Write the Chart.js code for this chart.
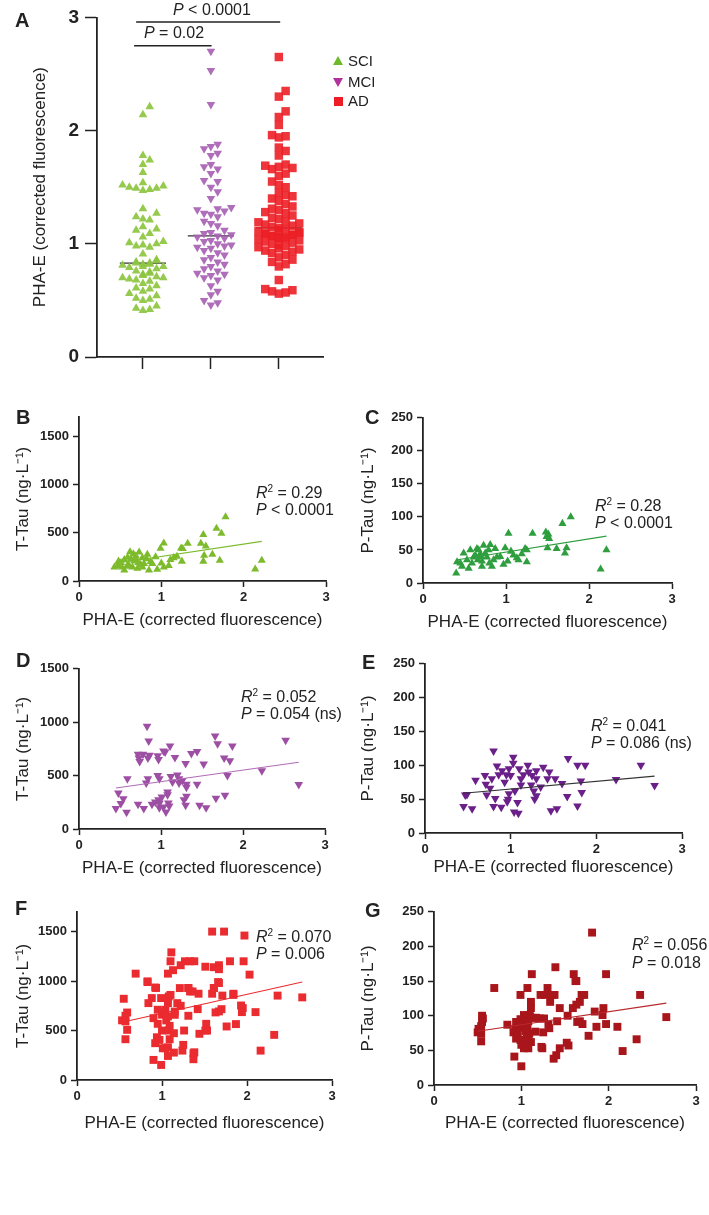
<!DOCTYPE html>
<html>
<head>
<meta charset="utf-8">
<script src="https://cdn.jsdelivr.net/npm/chart.js@4.4.0/dist/chart.umd.min.js"></script>
<style>
body{margin:0;background:#fff;width:709px;height:1215px;position:relative;overflow:hidden;font-family:"Liberation Sans",Arial,sans-serif;color:#222}
canvas{position:absolute}
.t{position:absolute;white-space:nowrap;font-size:16px;line-height:18px}
.t sup{font-size:10px;line-height:0;vertical-align:6px}
.lbl{position:absolute;font-weight:bold;font-size:20px;line-height:22px}
.leg{position:absolute;font-size:15px;line-height:18px;white-space:nowrap}
.mk{position:absolute}
</style>
</head>
<body>
<canvas id="cA" width="333" height="380" style="left:0;top:0"></canvas>
<canvas id="cB"></canvas>
<canvas id="cC"></canvas>
<canvas id="cD"></canvas>
<canvas id="cE"></canvas>
<canvas id="cF"></canvas>
<canvas id="cG"></canvas>

<div class="lbl" style="left:15px;top:9px">A</div>
<div class="lbl" style="left:16px;top:406px">B</div>
<div class="lbl" style="left:365px;top:406px">C</div>
<div class="lbl" style="left:16px;top:649px">D</div>
<div class="lbl" style="left:362px;top:651px">E</div>
<div class="lbl" style="left:15px;top:897px">F</div>
<div class="lbl" style="left:365px;top:899px">G</div>

<div class="t" style="left:173px;top:1px"><i>P</i> &lt; 0.0001</div>
<div class="t" style="left:144px;top:24px"><i>P</i> = 0.02</div>

<div class="mk" style="left:333px;top:56px;border-left:5px solid transparent;border-right:5px solid transparent;border-bottom:9px solid #6dbb2a"></div>
<div class="leg" style="left:348px;top:52px">SCI</div>
<div class="mk" style="left:333px;top:78px;border-left:5px solid transparent;border-right:5px solid transparent;border-top:9px solid #b2329c"></div>
<div class="leg" style="left:348px;top:73px">MCI</div>
<div class="mk" style="left:334px;top:97px;width:9px;height:9px;background:#ee1c25"></div>
<div class="leg" style="left:348px;top:92px">AD</div>

<div class="t" style="left:256px;top:484px"><i>R</i><sup>2</sup> = 0.29</div>
<div class="t" style="left:256px;top:501px"><i>P</i> &lt; 0.0001</div>
<div class="t" style="left:595px;top:497px"><i>R</i><sup>2</sup> = 0.28</div>
<div class="t" style="left:595px;top:514px"><i>P</i> &lt; 0.0001</div>
<div class="t" style="left:241px;top:688px"><i>R</i><sup>2</sup> = 0.052</div>
<div class="t" style="left:241px;top:705px"><i>P</i> = 0.054 (ns)</div>
<div class="t" style="left:591px;top:717px"><i>R</i><sup>2</sup> = 0.041</div>
<div class="t" style="left:591px;top:734px"><i>P</i> = 0.086 (ns)</div>
<div class="t" style="left:256px;top:928px"><i>R</i><sup>2</sup> = 0.070</div>
<div class="t" style="left:256px;top:945px"><i>P</i> = 0.006</div>
<div class="t" style="left:632px;top:936px"><i>R</i><sup>2</sup> = 0.056</div>
<div class="t" style="left:632px;top:954px"><i>P</i> = 0.018</div>

<script>
// panel A: PHA-E per group
const groups = ['SCI', 'MCI', 'AD']
const sciVals = [2.21, 2.14, 1.78, 1.74, 1.70, 1.63, 1.54, 1.52, 1.51, 1.50, 1.49, 1.49, 1.48, 1.47, 1.31, 1.27, 1.24, 1.22, 1.21, 1.15, 1.13, 1.12, 1.09, 1.06, 1.02, 1.01, 1.00, 0.99, 0.98, 0.97, 0.91, 0.86, 0.85, 0.84, 0.83, 0.83, 0.82, 0.82, 0.81, 0.80, 0.80, 0.79, 0.78, 0.76, 0.75, 0.74, 0.73, 0.72, 0.71, 0.70, 0.70, 0.69, 0.68, 0.67, 0.65, 0.63, 0.61, 0.60, 0.58, 0.56, 0.54, 0.52, 0.51, 0.50, 0.45, 0.43, 0.42, 0.41]
const mciVals = [2.70, 2.53, 2.23, 1.88, 1.86, 1.84, 1.80, 1.78, 1.70, 1.68, 1.66, 1.62, 1.56, 1.55, 1.50, 1.46, 1.40, 1.32, 1.31, 1.30, 1.29, 1.27, 1.26, 1.24, 1.20, 1.18, 1.16, 1.12, 1.10, 1.09, 1.08, 1.07, 1.06, 1.05, 1.03, 1.02, 1.00, 0.99, 0.98, 0.97, 0.96, 0.94, 0.92, 0.90, 0.88, 0.86, 0.84, 0.82, 0.80, 0.78, 0.76, 0.74, 0.73, 0.72, 0.70, 0.68, 0.63, 0.58, 0.55, 0.50, 0.48, 0.46]
const adVals = [2.65, 2.35, 2.30, 2.17, 2.12, 2.05, 1.96, 1.95, 1.94, 1.85, 1.82, 1.78, 1.70, 1.69, 1.68, 1.67, 1.66, 1.62, 1.60, 1.55, 1.52, 1.50, 1.45, 1.43, 1.42, 1.40, 1.38, 1.35, 1.33, 1.31, 1.30, 1.28, 1.27, 1.25, 1.23, 1.22, 1.20, 1.19, 1.18, 1.17, 1.16, 1.15, 1.14, 1.13, 1.12, 1.11, 1.10, 1.10, 1.09, 1.09, 1.08, 1.08, 1.07, 1.07, 1.06, 1.06, 1.05, 1.05, 1.04, 1.03, 1.02, 1.01, 1.00, 0.99, 0.98, 0.97, 0.96, 0.95, 0.94, 0.93, 0.92, 0.90, 0.88, 0.86, 0.84, 0.82, 0.80, 0.68, 0.60, 0.59, 0.58, 0.57, 0.56]
const medians = [0.83, 1.07, 1.14]
const sigBars = [[0.90, 3.02, 2.96], [0.87, 2.01, 2.75]]   // x from, x to, y

// panels B-G: [PHA-E, tau]
const ttauSCI = [[1.78,663],[1.67,544],[1.73,493],[1.51,480],[1.48,388],[1.54,360],[1.52,265],[1.62,275],[1.71,214],[1.51,204],[1.32,388],[1.24,340],[1.26,335],[1.03,391],[0.99,337],[1.19,255],[1.25,204],[1.11,220],[1.15,240],[1.00,184],[1.03,143],[0.93,250],[0.87,200],[0.83,275],[0.77,240],[0.73,299],[0.69,260],[0.67,205],[0.63,225],[0.59,245],[0.55,220],[0.51,190],[0.47,160],[0.43,143],[0.55,112],[0.65,143],[0.71,130],[0.75,170],[0.79,180],[0.85,112],[0.89,180],[0.72,190],[0.69,225],[0.60,170],[0.52,143],[0.48,205],[0.66,280],[0.77,143],[2.14,122],[2.22,214],[0.95,120],[1.09,160],[0.58,150],[0.82,230],[0.62,300]]
const ptauSCI = [[1.78,100],[1.68,90],[1.48,77],[1.50,72],[1.52,67],[1.49,70],[1.51,74],[1.32,75],[1.03,75],[1.73,53],[1.61,52],[1.71,45],[2.21,50],[2.14,21],[1.50,53],[1.23,52],[1.25,50],[0.99,53],[1.06,48],[0.81,58],[0.73,57],[0.65,52],[0.57,50],[0.49,45],[0.41,32],[0.40,15],[0.55,22],[0.47,25],[0.71,25],[0.83,25],[0.93,40],[1.02,33],[1.15,35],[1.25,32],[1.19,44],[1.09,42],[0.89,39],[0.77,39],[0.69,44],[0.61,39],[0.53,35],[0.97,28],[0.71,33],[0.79,50],[0.67,50],[0.87,52],[0.75,45],[0.63,42],[0.85,35],[0.45,30],[0.59,30],[1.13,38],[0.80,30],[0.70,40],[0.66,35]]
const ttauMCI = [[0.83,963],[0.85,824],[1.66,870],[1.69,798],[1.87,778],[2.52,830],[2.68,417],[2.23,546],[1.11,778],[1.03,731],[1.05,720],[0.72,701],[0.78,701],[0.86,690],[0.96,685],[0.73,664],[0.74,633],[0.84,664],[0.97,650],[1.17,670],[1.37,707],[1.44,725],[1.77,664],[1.84,639],[1.30,614],[1.52,608],[1.81,500],[0.96,500],[0.98,470],[1.12,491],[1.22,470],[1.26,455],[1.31,420],[1.44,420],[0.84,470],[0.82,430],[0.59,470],[1.14,440],[1.22,430],[1.31,392],[1.31,306],[1.28,275],[1.30,223],[1.08,346],[1.08,320],[1.01,300],[0.97,275],[0.93,253],[0.89,231],[1.03,207],[1.06,160],[1.09,243],[0.98,240],[1.10,215],[0.98,200],[0.79,192],[0.72,231],[0.48,336],[0.54,284],[0.51,238],[0.45,192],[0.58,157],[1.47,223],[1.55,200],[1.67,287],[1.78,315],[1.20,505]]
const ptauMCI = [[2.68,70],[2.23,79],[1.83,60],[1.82,77],[1.78,40],[1.66,54],[1.60,73],[1.52,80],[1.54,36],[1.47,33],[1.43,80],[1.30,80],[1.30,55],[1.28,50],[1.27,62],[1.24,71],[1.12,71],[1.08,45],[1.09,29],[1.04,31],[1.05,62],[0.97,50],[0.96,46],[0.98,58],[0.89,38],[0.80,39],[0.82,51],[0.72,56],[0.71,72],[0.78,80],[0.86,86],[0.95,86],[0.59,78],[0.49,57],[0.55,36],[0.45,39],[0.47,56],[1.00,85],[1.15,86],[1.21,90],[0.80,121],[0.84,99],[1.03,112],[1.03,103],[1.67,110],[1.78,100],[1.87,100],[2.52,100],[1.38,97],[1.10,95],[0.90,92],[1.20,100],[1.30,92],[0.98,95],[1.25,85],[1.45,90],[0.70,85],[0.93,75],[1.12,80],[1.35,68],[0.76,66]]
const ttauAD = [[1.59,1500],[1.73,1500],[1.97,1460],[1.11,1290],[1.10,1200],[1.13,1110],[1.22,1160],[1.27,1200],[1.33,1200],[1.38,1200],[1.07,1075],[0.69,1075],[0.83,990],[0.92,935],[1.31,930],[1.51,1145],[1.61,1140],[1.67,1160],[1.67,1120],[1.80,1200],[1.96,1200],[2.03,1065],[1.66,990],[1.61,930],[0.83,997],[0.93,930],[0.55,821],[0.88,828],[0.84,777],[0.99,828],[1.08,845],[1.10,860],[1.07,777],[1.18,777],[1.22,750],[1.21,929],[1.31,929],[1.33,895],[1.36,895],[1.43,872],[1.59,872],[1.61,929],[1.67,980],[1.71,853],[1.84,872],[1.84,860],[1.93,753],[1.95,727],[1.94,686],[2.10,686],[2.36,853],[2.65,835],[0.59,682],[0.57,649],[0.53,603],[0.57,592],[0.59,507],[0.57,412],[0.95,710],[1.01,683],[1.00,660],[1.04,710],[1.07,643],[0.90,625],[0.95,568],[1.05,602],[1.09,547],[1.00,500],[1.08,500],[1.14,473],[1.09,412],[0.94,432],[0.97,405],[0.92,372],[1.04,321],[1.01,321],[1.07,331],[1.14,277],[1.07,243],[0.90,203],[0.99,152],[1.15,692],[1.15,659],[1.31,649],[1.42,716],[1.26,500],[1.25,355],[1.24,297],[1.37,270],[1.38,280],[1.37,210],[1.44,467],[1.52,568],[1.53,500],[1.51,500],[1.63,683],[1.67,693],[1.70,716],[1.76,541],[1.87,565],[2.32,456],[2.16,297]]
const ptauAD = [[0.69,140],[1.07,140],[1.30,140],[0.99,130],[1.22,130],[1.27,130],[1.35,130],[1.38,130],[1.69,130],[1.72,130],[2.36,130],[1.63,150],[1.11,120],[1.33,120],[1.67,120],[1.63,116],[1.11,111],[1.44,111],[1.59,111],[1.94,111],[1.84,106],[1.53,100],[1.93,101],[2.66,98],[1.03,101],[1.09,101],[1.10,99],[1.13,97],[1.17,97],[1.22,96],[1.26,96],[1.06,96],[0.99,95],[1.04,91],[1.08,92],[1.41,92],[0.55,100],[0.56,96],[0.55,91],[0.54,85],[0.51,81],[0.50,76],[0.54,74],[0.54,63],[0.94,91],[0.84,87],[0.93,81],[0.98,83],[1.02,87],[1.07,85],[0.97,88],[0.91,76],[0.96,74],[1.05,78],[1.09,74],[1.16,77],[1.06,69],[0.94,67],[1.08,65],[0.99,65],[1.11,62],[1.05,58],[1.00,58],[1.03,53],[1.08,53],[0.92,41],[1.00,27],[1.23,55],[1.24,53],[1.25,76],[1.32,82],[1.31,87],[1.52,61],[1.54,57],[1.37,38],[1.40,43],[1.44,53],[1.64,91],[1.67,92],[1.70,88],[1.77,71],[1.86,84],[1.97,88],[2.10,84],[2.16,49],[2.32,66],[1.81,220],[1.39,170],[1.12,160],[1.60,160],[1.62,150],[1.97,160]]

// regression lines: [intercept, slope]
const fitB = [126, 128]
const fitC = [26.7, 20]
const fitD = [335, 108]
const fitE = [53.7, 11.3]
const fitF = [482, 192]
const fitG = [68.2, 18.8]

const ttauTicks = [0, 500, 1000, 1500]
const ptauTicks = [0, 50, 100, 150, 200, 250]
const phaTicks = [0, 1, 2, 3]

const FONT = '"Liberation Sans", Arial, sans-serif'
const ink = '#222'

function makeAxis(o) {
    return {
        type: 'linear', min: o.min, max: o.max,
        afterFit: s => { if (s.isHorizontal()) s.height = o.size; else s.width = o.size },
        afterBuildTicks: s => { s.ticks = o.ticks.map(v => ({value: v})) },
        ticks: {color: ink, padding: o.pad, font: {family: FONT, size: o.font, weight: 'bold'},
            callback: o.blank ? () => '' : v => String(v)},
        grid: {drawOnChartArea: false, drawTicks: true, tickLength: o.tick, tickWidth: 1.5, tickColor: ink},
        border: {display: true, color: ink, width: 1.8},
        title: {display: !!o.title, text: o.title, color: ink, font: {family: FONT, size: o.tfont || 16}, padding: o.tpad || 0}
    }
}

// panel A, beeswarm placement of each group around its category
function swarm(vals, center) {
    const stepX = 0.1, stepY = 0.07
    const placed = []
    return vals.slice().sort((a, b) => a - b).map(v => {
        let best = 0, bestHits = Infinity
        for (let k = 0; k < 7; k++) {
            const cand = k === 0 ? 0 : (k % 2 ? 1 : -1) * Math.ceil(k / 2) * stepX
            const hits = placed.filter(p => Math.abs(p.y - v) < stepY && Math.abs(p.x - cand) < stepX * 0.9).length
            if (hits < bestHits) { best = cand; bestHits = hits }
            if (hits === 0) break
        }
        placed.push({x: best, y: v})
        return {x: center + best, y: v}
    })
}

const groupVals = [sciVals, mciVals, adVals]
const groupColors = ['rgba(140,198,63,0.92)', 'rgba(168,98,179,0.92)', 'rgba(236,31,38,0.9)']
const groupStyle = [['triangle', 0, 5], ['triangle', 180, 5], ['rect', 0, 6]]

const dsA = groupVals.map((vals, i) => ({
    data: swarm(vals, i + 1),
    pointStyle: groupStyle[i][0], pointRotation: groupStyle[i][1], pointRadius: groupStyle[i][2],
    backgroundColor: groupColors[i], borderWidth: 0
}))
medians.forEach((m, i) => dsA.push({
    data: [{x: i + 1 - 0.34, y: m}, {x: i + 1 + 0.34, y: m}],
    showLine: true, pointRadius: 0, borderColor: '#333', borderWidth: 1.2
}))
sigBars.forEach(b => dsA.push({
    data: [{x: b[0], y: b[2]}, {x: b[1], y: b[2]}],
    showLine: true, pointRadius: 0, borderColor: '#222', borderWidth: 1.5
}))

new Chart(document.getElementById('cA'), {
    type: 'scatter',
    data: {datasets: dsA},
    options: {
        responsive: false, animation: false, devicePixelRatio: 1,
        layout: {padding: {top: 15, right: 10}},
        clip: false,
        plugins: {legend: {display: false}, tooltip: {enabled: false}},
        scales: {
            x: makeAxis({min: 0.324, max: 3.65, ticks: [1, 2, 3], blank: true, size: 23, tick: 12, pad: 0, font: 10}),
            y: makeAxis({min: 0, max: 3, ticks: [0, 1, 2, 3], size: 97, tick: 12, pad: 6, font: 19,
                title: 'PHA-E (corrected fluorescence)', tfont: 17, tpad: 30})
        }
    }
})

// panels B-G
function scatterPanel(id, area, pts, fit, o) {
    const cv = document.getElementById(id)
    const cl = area.l < 300 ? 0 : 345
    const xH = o.xH || 54
    cv.width = area.r + 12 - cl
    cv.height = area.b - area.t + 10 + xH
    cv.style.left = cl + 'px'
    cv.style.top = (area.t - 10) + 'px'
    const xs = pts.map(p => p[0])
    const x0 = Math.min(...xs), x1 = Math.max(...xs)
    new Chart(cv, {
        type: 'scatter',
        data: {datasets: [
            {data: [{x: x0, y: fit[0] + fit[1] * x0}, {x: x1, y: fit[0] + fit[1] * x1}],
                showLine: true, pointRadius: 0, borderColor: o.line, borderWidth: 1.1},
            {data: pts.map(p => ({x: p[0], y: p[1]})),
                pointStyle: o.style, pointRotation: o.rot || 0, pointRadius: o.r,
                backgroundColor: o.color, borderWidth: 0}
        ]},
        options: {
            responsive: false, animation: false, devicePixelRatio: 1,
            layout: {padding: {top: 10, right: 12}},
            clip: false,
            plugins: {legend: {display: false}, tooltip: {enabled: false}},
            scales: {
                x: makeAxis({min: 0, max: 3, ticks: phaTicks, size: xH, tick: 6, pad: 3, font: 13,
                    title: 'PHA-E (corrected fluorescence)', tfont: 17, tpad: 4}),
                y: makeAxis({min: 0, max: o.ymax, ticks: o.yticks, size: area.l - cl, tick: 6, pad: 4, font: 13,
                    title: o.ytitle, tfont: 17, tpad: 13})
            }
        }
    })
}

const ttTitle = 'T-Tau (ng\u00b7L\u207b\u00b9)'
const ptTitle = 'P-Tau (ng\u00b7L\u207b\u00b9)'

scatterPanel('cB', {l: 79, t: 415, r: 326, b: 581}, ttauSCI, fitB,
    {style: 'triangle', r: 4.7, color: '#7dbb2d', line: '#7dbb2d', ymax: 1700, yticks: ttauTicks, ytitle: ttTitle, xH: 54})
scatterPanel('cC', {l: 423, t: 416, r: 672, b: 583}, ptauSCI, fitC,
    {style: 'triangle', r: 4.7, color: '#2f9e3f', line: '#2f9e3f', ymax: 250, yticks: ptauTicks, ytitle: ptTitle, xH: 54})
scatterPanel('cD', {l: 79, t: 667, r: 325, b: 829}, ttauMCI, fitD,
    {style: 'triangle', rot: 180, r: 5, color: '#9d4fa3', line: '#b06cb6', ymax: 1500, yticks: ttauTicks, ytitle: ttTitle, xH: 54})
scatterPanel('cE', {l: 425, t: 662, r: 682, b: 833}, ptauMCI, fitE,
    {style: 'triangle', rot: 180, r: 5, color: '#6b1f88', line: '#333', ymax: 250, yticks: ptauTicks, ytitle: ptTitle, xH: 49})
scatterPanel('cF', {l: 77, t: 910, r: 332, b: 1080}, ttauAD, fitF,
    {style: 'rect', r: 5.6, color: '#ea2b2f', line: '#ea2b2f', ymax: 1700, yticks: ttauTicks, ytitle: ttTitle, xH: 58})
scatterPanel('cG', {l: 434, t: 910, r: 696, b: 1085}, ptauAD, fitG,
    {style: 'rect', r: 5.6, color: '#a8161b', line: '#b8282c', ymax: 250, yticks: ptauTicks, ytitle: ptTitle, xH: 53})
</script>
</body>
</html>
